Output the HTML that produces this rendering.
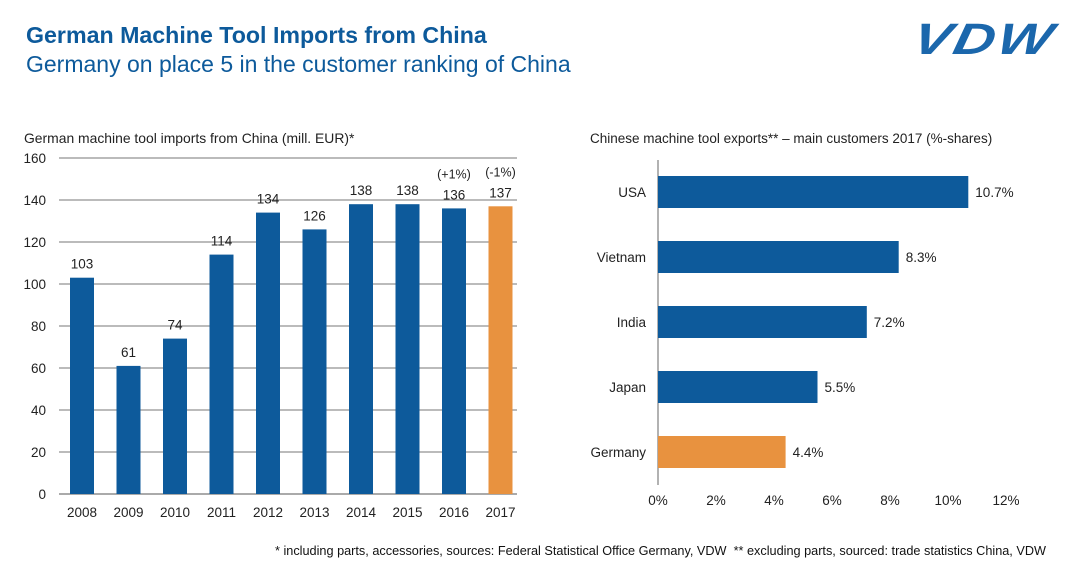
<!DOCTYPE html>
<html><head><meta charset="utf-8"><style>
body{margin:0;background:#fff;font-family:"Liberation Sans",Arial,sans-serif;}
#wrap{position:relative;width:1080px;height:570px;overflow:hidden;}
</style></head><body>
<div id="wrap">
<div style="position:absolute;left:26px;top:22px;font-size:23.2px;font-weight:bold;color:#0d5a9b;">German Machine Tool Imports from China</div>
<div style="position:absolute;left:26px;top:51px;font-size:23px;color:#0d5a9b;">Germany on place 5 in the customer ranking of China</div>
<div style="position:absolute;left:918px;top:18px;font-size:44px;font-weight:900;font-style:italic;color:#1b67ac;letter-spacing:2px;transform:skewX(-12deg) scaleX(1.3);transform-origin:left top;line-height:44px;">VDW</div>
<svg id="svg" width="1080" height="570" style="position:absolute;left:0;top:0"></svg>
<div style="position:absolute;left:275px;top:544px;font-size:12.7px;color:#111;">* including parts, accessories, sources: Federal Statistical Office Germany, VDW&nbsp; ** excluding parts, sourced: trade statistics China, VDW</div>
</div>
<script>
const years=["2008","2009","2010","2011","2012","2013","2014","2015","2016","2017"];
const imports=[103,61,74,114,134,126,138,138,136,137];
const yTicks=[0,20,40,60,80,100,120,140,160];
const notes={"2016":"(+1%)","2017":"(-1%)"};
const countries=["USA","Vietnam","India","Japan","Germany"];
const shares=[10.7,8.3,7.2,5.5,4.4];
const xTicks=[0,2,4,6,8,10,12];
const NS="http://www.w3.org/2000/svg";
const svg=document.getElementById('svg');
function mk(t,a,txt){const e=document.createElementNS(NS,t);for(const k in a)e.setAttribute(k,a[k]);if(txt!=null)e.textContent=txt;svg.appendChild(e);return e;}
const blue="#0d5a9b",orange="#e8923f";
const y=v=>494-v*336/160;
const x=i=>82+i*46.5;
let t=mk('text',{x:24,y:143,'font-size':13.9,fill:'#222'},"German machine tool imports from China (mill. EUR)*");

yTicks.forEach(v=>{
 if(v>0){let g=mk('line',{x1:59,x2:517,y1:y(v),y2:y(v),stroke:'#777','stroke-width':1});
 }
 let l=mk('text',{x:46,y:y(v)+5,'font-size':13.5,'text-anchor':'end',fill:'#222'},v);
 
});
let ax=mk('line',{x1:59,x2:517,y1:494,y2:494,stroke:'#555','stroke-width':1});

years.forEach((yr,i)=>{
 const v=imports[i];
 let r=mk('rect',{x:x(i)-12,y:y(v),width:24,height:494-y(v),fill:i==years.length-1?orange:blue});
 
 let l=mk('text',{x:x(i),y:y(v)-9,'font-size':13.5,'text-anchor':'middle',fill:'#222'},v);
 
 if(notes[yr]){let n=mk('text',{x:x(i),y:y(v)-30,'font-size':12.5,'text-anchor':'middle',fill:'#222'},notes[yr]);
 }
 let xl=mk('text',{x:x(i),y:517,'font-size':13.5,'text-anchor':'middle',fill:'#222'},yr);
 
});
const px=v=>658+v*29;
const cy=i=>192+i*65;
t=mk('text',{x:590,y:143,'font-size':13.5,fill:'#222'},"Chinese machine tool exports**  – main customers 2017 (%-shares)");

let va=mk('line',{x1:658,x2:658,y1:160,y2:485,stroke:'#666','stroke-width':1});

countries.forEach((c,i)=>{
 let r=mk('rect',{x:658,y:cy(i)-16,width:px(shares[i])-658,height:32,fill:i==countries.length-1?orange:blue});
 
 let l=mk('text',{x:px(shares[i])+7,y:cy(i)+5,'font-size':13.5,fill:'#222'},shares[i].toFixed(1)+"%");
 
 let cl=mk('text',{x:646,y:cy(i)+5,'font-size':13.5,'text-anchor':'end',fill:'#222'},c);
 
});
xTicks.forEach(v=>{
 let l=mk('text',{x:px(v),y:505,'font-size':13.5,'text-anchor':'middle',fill:'#222'},v+"%");
 
});
</script>
</body></html>
